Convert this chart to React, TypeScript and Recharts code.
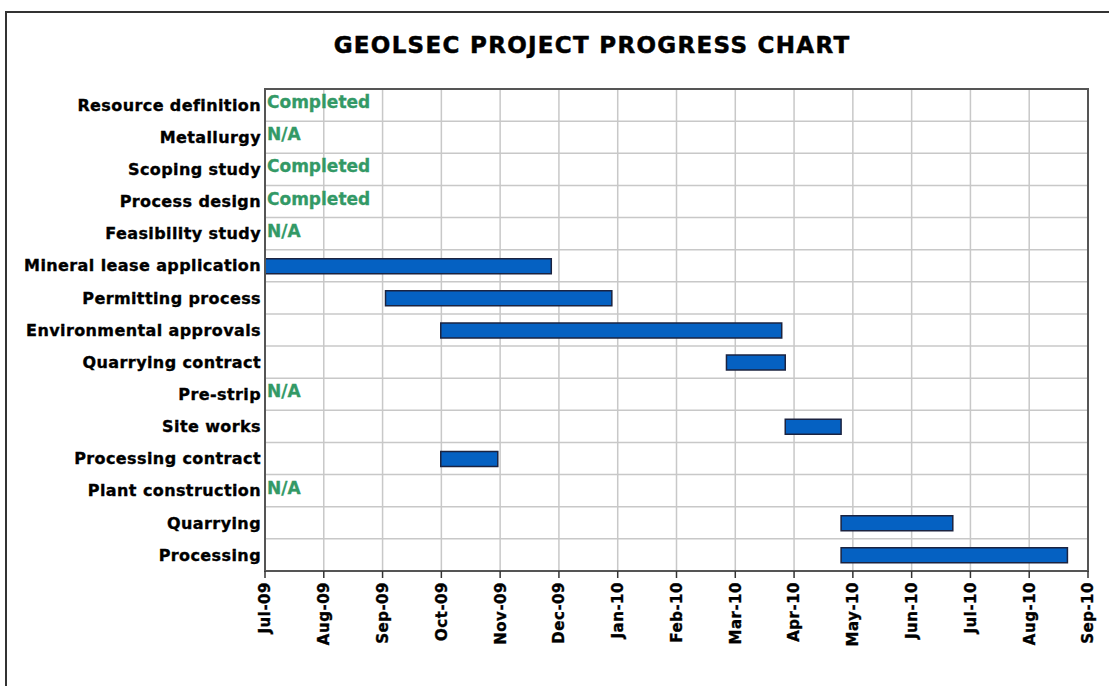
import React from "react";
import { BarChart, Bar, XAxis, YAxis, CartesianGrid, ReferenceArea } from "recharts";

const tasks = [
  "Resource definition",
  "Metallurgy",
  "Scoping study",
  "Process design",
  "Feasibility study",
  "Mineral lease application",
  "Permitting process",
  "Environmental approvals",
  "Quarrying contract",
  "Pre-strip",
  "Site works",
  "Processing contract",
  "Plant construction",
  "Quarrying",
  "Processing",
];

// months since Jul-09
const startMonths = [0, 0, 0, 0, 0, 0, 2.05, 2.99, 7.85, 0, 8.85, 2.99, 0, 9.8, 9.8];
const durationMonths: (number | null)[] = [null, null, null, null, null, 4.87, 3.85, 5.8, 1.0, null, 0.95, 0.97, null, 1.9, 3.85];
const statusLabels = ["Completed", "N/A", "Completed", "Completed", "N/A", "", "", "", "", "N/A", "", "", "N/A", "", ""];

const monthLabels = [
  "Jul-09", "Aug-09", "Sep-09", "Oct-09", "Nov-09", "Dec-09", "Jan-10", "Feb-10",
  "Mar-10", "Apr-10", "May-10", "Jun-10", "Jul-10", "Aug-10", "Sep-10",
];

const title = "GEOLSEC PROJECT PROGRESS CHART";

const data = tasks.map((t, i) => ({
  task: t,
  start: startMonths[i],
  duration: durationMonths[i],
  status: statusLabels[i],
}));

const FONT = "'DejaVu Sans', Verdana, sans-serif";

const XTick = (props: any) => {
  const { x, y, payload } = props;
  return (
    <g transform={`translate(${x},${y})`}>
      <text
        transform="rotate(-90)"
        x={-2}
        y={0}
        dy="0.36em"
        textAnchor="end"
        fontFamily={FONT}
        fontWeight="bold"
        fontSize={15}
        letterSpacing={0.5}
        fill="#000"
        stroke="#000"
        strokeWidth={0.35}
      >
        {monthLabels[payload.value]}
      </text>
    </g>
  );
};

const YTick = (props: any) => {
  const { x, y, payload } = props;
  const idx = tasks.indexOf(payload.value);
  const status = idx >= 0 ? statusLabels[idx] : "";
  return (
    <g>
      <text
        x={x}
        y={y}
        dy="0.36em"
        textAnchor="end"
        fontFamily={FONT}
        fontWeight="bold"
        fontSize={16}
        letterSpacing={0.4}
        fill="#000"
        stroke="#000"
        strokeWidth={0.35}
      >
        {payload.value}
      </text>
      {status ? (
        <text
          x={x + 6}
          y={y - 3}
          dy="0.36em"
          textAnchor="start"
          fontFamily={FONT}
          fontWeight="bold"
          fontSize={17}
          fill="#339966"
          stroke="#339966"
          strokeWidth={0.3}
        >
          {status}
        </text>
      ) : null}
    </g>
  );
};

export default function App() {
  const rows = tasks.length;
  return (
    <div style={{ position: "absolute", left: 0, top: 0, width: 1109, height: 686, background: "#fff" }}>
      <svg width={1109} height={686} style={{ position: "absolute", left: 0, top: 0 }}>
        <rect x={6} y={12} width={1200} height={800} fill="none" stroke="#333" strokeWidth={2} />
        <text
          x={592}
          y={53}
          textAnchor="middle"
          fontFamily={FONT}
          fontWeight="bold"
          fontSize={23}
          letterSpacing={1.3}
          fill="#000"
          stroke="#000"
          strokeWidth={0.5}
        >
          {title}
        </text>
      </svg>
      <div style={{ position: "absolute", left: 0, top: 0 }}>
        <BarChart
          width={1109}
          height={686}
          data={data}
          layout="vertical"
          margin={{ top: 89, right: 21, bottom: 15, left: 0 }}
          barSize={15}
        >
          <CartesianGrid
            stroke="#c8c8c8"
            strokeWidth={1.5}
            horizontalCoordinatesGenerator={(p: any) => {
              const off = p.offset;
              const out: number[] = [];
              for (let i = 1; i < rows; i++) out.push(off.top + (i * off.height) / rows);
              return out;
            }}
          />
          <XAxis
            type="number"
            domain={[0, 14]}
            ticks={[0, 1, 2, 3, 4, 5, 6, 7, 8, 9, 10, 11, 12, 13, 14]}
            interval={0}
            allowDataOverflow
            height={100}
            tick={<XTick />}
            tickSize={7}
            tickLine={{ stroke: "#333", strokeWidth: 1.5 }}
            axisLine={{ stroke: "#555", strokeWidth: 2 }}
          />
          <YAxis
            type="category"
            dataKey="task"
            width={265}
            tickSize={0}
            tickMargin={4}
            axisLine={{ stroke: "#555", strokeWidth: 2 }}
            tick={<YTick />}
            interval={0}
          />
          <ReferenceArea x1={0} x2={14} fill="none" stroke="#555" strokeWidth={2} ifOverflow="visible" />
          <Bar dataKey="start" stackId="a" fill="transparent" isAnimationActive={false} />
          <Bar
            dataKey="duration"
            stackId="a"
            fill="#0561c2"
            stroke="#1b2340"
            strokeWidth={1.5}
            isAnimationActive={false}
          />
        </BarChart>
      </div>
    </div>
  );
}
